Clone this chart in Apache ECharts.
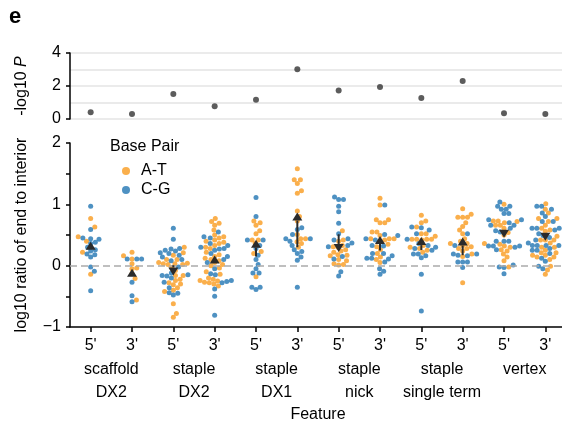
<!DOCTYPE html>
<html>
<head>
<meta charset="utf-8">
<script src="https://cdn.jsdelivr.net/npm/echarts@6.0.0/dist/echarts.min.js"></script>
<style>
  html, body { margin: 0; padding: 0; background: #fff; }
  #main { width: 562px; height: 429px; }
</style>
</head>
<body>
<div id="main"></div>
<script>
// feature groups and 5'/3' ends
var features = ['scaffold\nDX2', 'staple\nDX2', 'staple\nDX1', 'staple\nnick', 'staple\nsingle term', 'vertex'];
var ends = ["5'", "3'", "5'", "3'", "5'", "3'", "5'", "3'", "5'", "3'", "5'", "3'"];

// -log10 P for each feature end
var pValues = [0.41, 0.31, 1.52, 0.77, 1.17, 3.02, 1.72, 1.94, 1.28, 2.30, 0.35, 0.31];

// log10 ratio of end to interior, A-T base pairs
var atValues = [
  [0.77, 0.63, 0.47, 0.40, 0.22, -0.14],
  [0.22, 0.16, 0.11, 0.03, -0.04, -0.05, -0.13, -0.21, -0.56],
  [0.30, 0.21, 0.17, 0.10, 0.10, 0.05, 0.04, 0.03, 0.03, 0.02, 0.02, -0.03, -0.08, -0.16, -0.16, -0.22, -0.24, -0.28, -0.30, -0.31, -0.36, -0.40, -0.42, -0.62, -0.78, -0.84],
  [0.77, 0.72, 0.69, 0.66, 0.58, 0.50, 0.47, 0.45, 0.42, 0.40, 0.38, 0.36, 0.33, 0.30, 0.28, 0.22, 0.18, 0.15, 0.12, 0.10, 0.08, 0.05, 0.02, 0.00, -0.04, -0.10, -0.14, -0.20, -0.22, -0.24, -0.25, -0.27, -0.28, -0.30, -0.33],
  [0.73, 0.70, 0.66, 0.57, 0.52, 0.42, 0.42, 0.36, 0.23, 0.20, -0.18],
  [1.58, 1.40, 1.40, 1.34, 1.22, 1.18, 0.89, 0.80, 0.73, 0.51, 0.44, 0.44, 0.39, 0.36, 0.30],
  [0.57, 0.42, 0.40, 0.33, 0.31, 0.30, 0.26, 0.24, 0.22, 0.18, 0.17, 0.16, 0.10, 0.08, 0.03, 0.02, 0.01],
  [1.10, 0.99, 0.75, 0.75, 0.70, 0.70, 0.55, 0.55, 0.49, 0.44, 0.44, 0.44, 0.42, 0.40, 0.35, 0.31, 0.26, 0.20, 0.14, 0.10, 0.05],
  [0.82, 0.73, 0.70, 0.63, 0.52, 0.52, 0.48, 0.43, 0.43, 0.42, 0.43, 0.43, 0.33, 0.30, 0.28, 0.25, 0.22],
  [0.93, 0.84, 0.79, 0.79, 0.79, 0.70, 0.64, 0.58, 0.52, 0.44, 0.40, 0.36, 0.36, 0.33, 0.31, 0.28, 0.28, 0.24, 0.19, 0.15, -0.28],
  [1.00, 0.73, 0.73, 0.72, 0.70, 0.66, 0.66, 0.61, 0.54, 0.50, 0.36, 0.35, 0.32, 0.30, 0.26, 0.24, 0.19, 0.14, 0.08, -0.02],
  [1.01, 0.92, 0.86, 0.77, 0.77, 0.72, 0.66, 0.61, 0.58, 0.56, 0.48, 0.42, 0.42, 0.42, 0.37, 0.30, 0.30, 0.25, 0.21, 0.21, 0.17, 0.17, 0.14, 0.14, 0.10, -0.01, -0.07, -0.14]
];

// log10 ratio of end to interior, C-G base pairs
var cgValues = [
  [0.97, 0.59, 0.45, 0.44, 0.43, 0.38, 0.36, 0.30, 0.26, 0.24, 0.19, 0.18, 0.14, -0.02, -0.09, -0.41],
  [0.11, 0.11, 0.11, -0.27, -0.49, -0.59],
  [0.61, 0.43, 0.28, 0.27, 0.25, 0.24, 0.21, 0.20, 0.17, 0.14, 0.10, 0.08, -0.02, -0.12, -0.15, -0.16, -0.17, -0.20, -0.27, -0.36, -0.44, -0.45, -0.48],
  [0.55, 0.47, 0.45, 0.36, 0.33, 0.30, 0.28, 0.27, 0.25, 0.20, 0.15, 0.10, 0.05, -0.05, -0.13, -0.15, -0.24, -0.26, -0.28, -0.38, -0.50, -0.81],
  [1.11, 0.80, 0.42, 0.42, 0.33, 0.28, 0.17, 0.10, 0.02, -0.05, -0.12, -0.12, -0.35, -0.35, -0.39],
  [0.62, 0.59, 0.51, 0.44, 0.44, 0.40, 0.33, 0.26, 0.23, 0.20, 0.14, 0.09, -0.35],
  [1.12, 1.08, 1.08, 0.97, 0.88, 0.69, 0.52, 0.44, 0.42, 0.37, 0.33, 0.31, 0.15, 0.11, -0.10, -0.17],
  [0.99, 0.51, 0.49, 0.44, 0.42, 0.33, 0.32, 0.20, 0.20, 0.16, 0.12, 0.12, 0.11, 0.06, -0.05, -0.09, -0.14],
  [0.63, 0.62, 0.58, 0.52, 0.43, 0.36, 0.33, 0.30, 0.28, 0.25, 0.19, 0.19, 0.16, 0.13, -0.14, -0.74],
  [0.52, 0.33, 0.19, 0.19, 0.17, 0.16, 0.06, 0.06, 0.06, -0.03],
  [1.04, 0.97, 0.97, 0.92, 0.92, 0.85, 0.85, 0.75, 0.75, 0.70, 0.66, 0.66, 0.61, 0.57, 0.55, 0.40, 0.40, 0.40, 0.32, 0.32, 0.32, 0.30, 0.26, 0.01, -0.02, -0.03, -0.13],
  [0.97, 0.97, 0.92, 0.86, 0.80, 0.72, 0.72, 0.61, 0.61, 0.61, 0.58, 0.52, 0.49, 0.46, 0.42, 0.37, 0.33, 0.33, 0.33, 0.33, 0.28, 0.25, 0.25, 0.20, 0.12, 0.07, -0.01, -0.05]
];

var AT_COLOR = '#f99b1f';
var CG_COLOR = '#2275b3';
var FONT = 'Liberation Sans, Arial, sans-serif';

// grid geometry (used for the swarm layout only)
var G_LEFT = 70, G_RIGHT = -4, G_WIDTH = 562 - G_LEFT - G_RIGHT;
var G1_TOP = 143, G1_HEIGHT = 184;
var PX_X = G_WIDTH / 12;
var PX_Y = G1_HEIGHT / 3;
var DOT = 4.8;

function mean(a) {
  var s = 0;
  for (var i = 0; i < a.length; i++) s += a[i];
  return s / a.length;
}

// simple beeswarm: place each point (sorted by value) at the smallest offset that doesn't overlap
function swarm(pts) {
  var sorted = pts.slice().sort(function (a, b) { return a.v - b.v; });
  var placed = [];
  sorted.forEach(function (p) {
    var y = p.v * PX_Y;
    var near = placed.filter(function (q) { return Math.abs(q.y - y) < DOT; });
    var cands = [0];
    near.forEach(function (q) {
      var dx = Math.sqrt(DOT * DOT - (q.y - y) * (q.y - y));
      cands.push(q.x + dx, q.x - dx);
    });
    cands.sort(function (a, b) { return Math.abs(a) - Math.abs(b); });
    var x = cands.find(function (c) {
      return near.every(function (q) {
        return (q.x - c) * (q.x - c) + (q.y - y) * (q.y - y) >= DOT * DOT - 1e-6;
      });
    });
    if (x === undefined) x = cands[cands.length - 1] + DOT;
    placed.push({ x: x, y: y, v: p.v, hue: p.hue });
  });
  return placed;
}

var atData = [], cgData = [], arrowData = [], topData = [];
for (var i = 0; i < ends.length; i++) {
  var pts = [];
  atValues[i].forEach(function (v) { pts.push({ v: v, hue: 'AT' }); });
  cgValues[i].forEach(function (v) { pts.push({ v: v, hue: 'CG' }); });
  swarm(pts).forEach(function (p) {
    var d = [i + p.x / PX_X, p.v];
    if (p.hue === 'AT') atData.push(d); else cgData.push(d);
  });
  arrowData.push([i, mean(cgValues[i]), mean(atValues[i])]);
  topData.push([i, pValues[i]]);
}

var chart = echarts.init(document.getElementById('main'), null, { renderer: 'canvas' });

var option = {
  backgroundColor: '#fff',
  animation: false,
  textStyle: { fontFamily: FONT },
  graphic: [
    { type: 'text', left: 9, top: 6, style: { text: 'e', font: 'bold 22px ' + FONT, fill: '#000' } },
    { type: 'text', left: 110, top: 139, style: { text: 'Base Pair', font: '16px ' + FONT, fill: '#000' } }
  ],
  legend: {
    orient: 'vertical',
    left: 122,
    top: 162,
    padding: 0,
    itemGap: 1,
    itemWidth: 20,
    itemHeight: 8,
    icon: 'circle',
    textStyle: { fontSize: 16, color: '#000', lineHeight: 18, fontFamily: FONT },
    data: ['A-T', 'C-G']
  },
  grid: [
    { left: G_LEFT, right: G_RIGHT, top: 53, height: 66, outerBoundsMode: 'none' },
    { left: G_LEFT, right: G_RIGHT, top: G1_TOP, height: G1_HEIGHT, outerBoundsMode: 'none' }
  ],
  xAxis: [
    { gridIndex: 0, type: 'value', min: -0.5, max: 11.5, show: false },
    {
      gridIndex: 1, type: 'category', data: ends, position: 'bottom',
      boundaryGap: true,
      axisLine: { show: true, onZero: false, lineStyle: { color: '#000', width: 1.5 } },
      axisTick: { show: true, alignWithLabel: true, length: 5, lineStyle: { color: '#000', width: 1.5 } },
      axisLabel: { fontSize: 16, color: '#000', margin: 11, fontFamily: FONT },
      splitLine: { show: false },
      name: 'Feature', nameLocation: 'middle', nameGap: 80,
      nameTextStyle: { fontSize: 16, color: '#000', fontFamily: FONT }
    },
    {
      gridIndex: 1, type: 'category', data: features, position: 'bottom',
      axisLine: { show: false, onZero: false }, axisTick: { show: false },
      axisLabel: { fontSize: 16, color: '#000', margin: 31, lineHeight: 23, fontFamily: FONT, interval: 0 },
      splitLine: { show: false }
    },
    { gridIndex: 1, type: 'value', min: -0.5, max: 11.5, show: false }
  ],
  yAxis: [
    {
      gridIndex: 0, type: 'value', min: 0, max: 4, interval: 2,
      axisLine: { show: true, onZero: false, lineStyle: { color: '#000', width: 1.5 } },
      axisTick: { show: true, length: 4, lineStyle: { color: '#000', width: 1.5 } },
      axisLabel: { fontSize: 16, color: '#000', margin: 9, fontFamily: FONT },
      splitLine: { show: true, lineStyle: { color: '#e4e4e4', width: 1.5 } },
      minorTick: { show: false, splitNumber: 2 },
      minorSplitLine: { show: true, lineStyle: { color: '#e4e4e4', width: 1.5 } },
      name: '-log10 {i|P}', nameLocation: 'middle', nameGap: 40, nameRotate: 90,
      nameTextStyle: {
        fontSize: 16, color: '#000', fontFamily: FONT,
        rich: { i: { fontSize: 16, fontStyle: 'italic', color: '#000', fontFamily: FONT } }
      }
    },
    {
      gridIndex: 1, type: 'value', min: -1, max: 2, interval: 1,
      axisLine: { show: true, onZero: false, lineStyle: { color: '#000', width: 1.5 } },
      axisTick: { show: true, length: 4, lineStyle: { color: '#000', width: 1.5 } },
      minorTick: { show: true, splitNumber: 2, length: 4, lineStyle: { color: '#000', width: 1.5 } },
      axisLabel: {
        fontSize: 16, color: '#000', margin: 9, fontFamily: FONT,
        formatter: function (v) { return v < 0 ? '\u2212' + Math.abs(v) : String(v); }
      },
      splitLine: { show: false },
      name: 'log10 ratio of end to interior', nameLocation: 'middle', nameGap: 40, nameRotate: 90,
      nameTextStyle: { fontSize: 16, color: '#000', fontFamily: FONT }
    }
  ],
  series: [
    {
      type: 'scatter', xAxisIndex: 0, yAxisIndex: 0, data: topData,
      symbolSize: 6, itemStyle: { color: '#333' }, silent: true
    },
    {
      type: 'line', xAxisIndex: 3, yAxisIndex: 1, data: [], z: 1,
      markLine: {
        silent: true, symbol: 'none', label: { show: false },
        lineStyle: { color: '#aaaaaa', type: [7, 4], width: 1.5 },
        data: [{ yAxis: 0 }]
      }
    },
    {
      name: 'A-T', type: 'scatter', xAxisIndex: 3, yAxisIndex: 1, data: atData,
      symbolSize: 5, itemStyle: { color: AT_COLOR }, z: 3
    },
    {
      name: 'C-G', type: 'scatter', xAxisIndex: 3, yAxisIndex: 1, data: cgData,
      symbolSize: 5, itemStyle: { color: CG_COLOR }, z: 3
    },
    {
      type: 'custom', xAxisIndex: 3, yAxisIndex: 1, data: arrowData, z: 5, silent: true,
      renderItem: function (params, api) {
        var s = api.coord([api.value(0), api.value(1)]);
        var e = api.coord([api.value(0), api.value(2)]);
        var dir = e[1] < s[1] ? -1 : 1;
        var h = 8, w = 5;
        var baseY = e[1] - dir * h;
        var children = [];
        if ((baseY - s[1]) * dir > 0) {
          children.push({
            type: 'line',
            shape: { x1: s[0], y1: s[1], x2: e[0], y2: baseY },
            style: { stroke: '#2b2b2b', lineWidth: 2 }
          });
        }
        children.push({
          type: 'polygon',
          shape: { points: [[e[0], e[1]], [e[0] - w, baseY], [e[0] + w, baseY]] },
          style: { fill: '#2b2b2b' }
        });
        return { type: 'group', children: children };
      }
    }
  ]
};

chart.setOption(option);
</script>
</body>
</html>
